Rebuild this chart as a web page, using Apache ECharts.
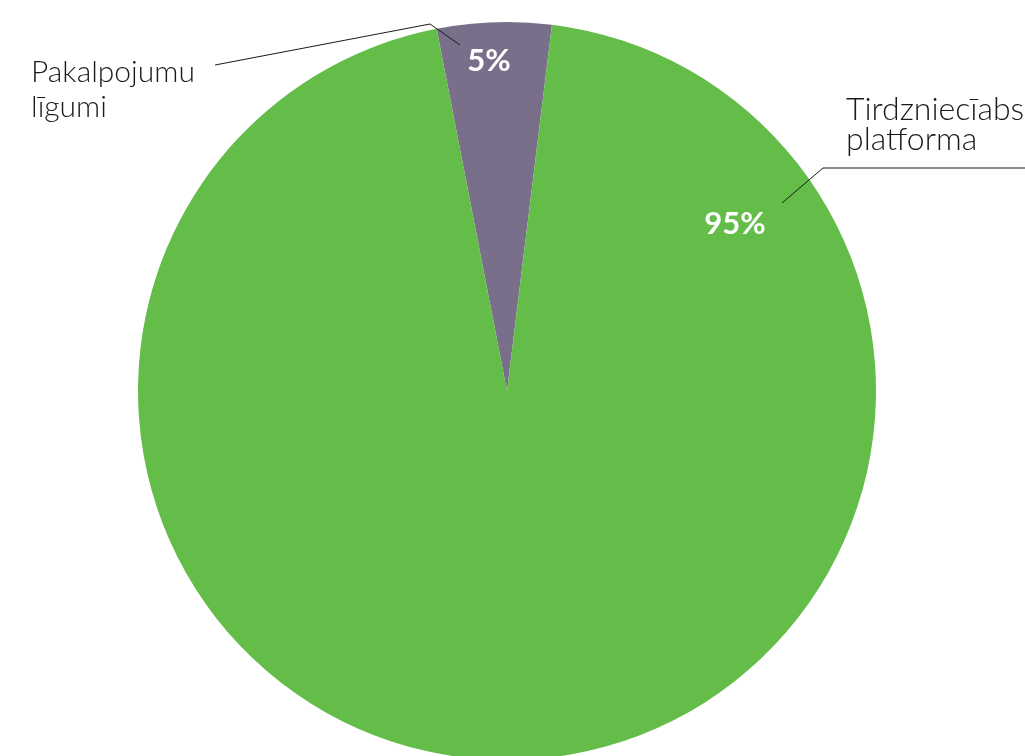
<!DOCTYPE html>
<html>
<head>
<meta charset="utf-8">
<script src="https://cdn.jsdelivr.net/npm/echarts@6/dist/echarts.min.js"></script>
<style>
  html, body { margin: 0; padding: 0; background: #fff; }
  #chart { width: 1025px; height: 756px; }
</style>
</head>
<body>
<div id="chart"></div>
<script>
// slice names and shares (%)
const names = ["Pakalpojumu\nlīgumi", "Tirdzniecīabs\nplatforma"];
const values = [5, 95];
const colors = ["#7a6f8b", "#63bd48"];

const center = [507, 391];
const radius = 369;
const startAngle = 101;

// where the percent labels and the name labels sit
const pctPos = [[489, 61], [735, 224]];
const namePos = [[31, 55], [846, 95]];
const nameFontSize = [30, 32];
const nameLineHeight = [35, 30];
const linePoints = [
  [[460, 45], [430, 24], [215, 65]],
  [[782, 203], [823, 168], [1030, 168]]
];

const chart = echarts.init(document.getElementById("chart"));

const option = {
  animation: false,
  series: [
    {
      type: "pie",
      center: center,
      radius: radius,
      startAngle: startAngle,
      clockwise: true,
      avoidLabelOverlap: false,
      data: values.map((v, i) => ({
        value: v,
        name: names[i],
        itemStyle: { color: colors[i] }
      })),
      label: {
        show: true,
        position: "inside",
        formatter: "{d}%",
        color: "#fff",
        fontFamily: "Lato",
        fontWeight: "bold",
        fontSize: 31
      },
      labelLine: { show: false },
      emphasis: { disabled: true },
      labelLayout: params => ({
        x: pctPos[params.dataIndex][0],
        y: pctPos[params.dataIndex][1],
        align: "center",
        verticalAlign: "middle"
      })
    },
    {
      type: "pie",
      center: center,
      radius: radius,
      startAngle: startAngle,
      clockwise: true,
      silent: true,
      avoidLabelOverlap: false,
      z: 3,
      data: values.map((v, i) => ({
        value: v,
        name: names[i],
        itemStyle: { color: "transparent" },
        label: { fontSize: nameFontSize[i], lineHeight: nameLineHeight[i] }
      })),
      label: {
        show: true,
        position: "outside",
        formatter: "{b}",
        color: "#1a1a1a",
        fontFamily: "Lato",
        fontWeight: 300,
        fontSize: 30
      },
      labelLine: {
        show: true,
        lineStyle: { color: "#1a1a1a", width: 1 }
      },
      labelLayout: params => ({
        x: namePos[params.dataIndex][0],
        y: namePos[params.dataIndex][1],
        align: "left",
        verticalAlign: "top",
        labelLinePoints: linePoints[params.dataIndex]
      })
    }
  ]
};

chart.setOption(option);
</script>
</body>
</html>
